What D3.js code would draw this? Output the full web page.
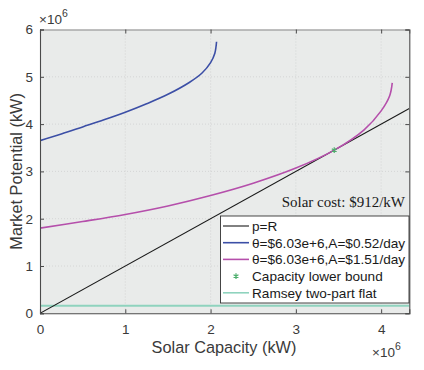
<!DOCTYPE html>
<html>
<head>
<meta charset="utf-8">
<script src="https://cdn.jsdelivr.net/npm/d3@7"></script>
<style>
  body { margin: 0; background: #fff; }
  svg { display: block; font-family: "Liberation Sans", Arial, sans-serif; }
</style>
</head>
<body>
<div id="chart"></div>
<script>
// values in units of 1e6 kW
var xTicks = [0, 1, 2, 3, 4]
var yTicks = [0, 1, 2, 3, 4, 5, 6]

var blueX = [0, 0.25, 0.5, 0.75, 1.0, 1.25, 1.5, 1.75, 1.9, 2.0, 2.05, 2.07]
var blueY = [3.65, 3.79, 3.94, 4.09, 4.25, 4.43, 4.63, 4.88, 5.08, 5.30, 5.50, 5.74]

var magX = [0, 0.5, 1.0, 1.5, 2.0, 2.5, 3.0, 3.45, 3.8, 4.0, 4.1, 4.13]
var magY = [1.80, 1.94, 2.09, 2.27, 2.49, 2.75, 3.07, 3.45, 3.88, 4.28, 4.60, 4.87]

var lineX = [0, 4.33]
var lineY = [0, 4.33]

var boundX = [3.45]
var boundY = [3.45]

var ramseyY = 0.16

var legendLabels = ['p=R', 'θ=$6.03e+6,A=$0.52/day', 'θ=$6.03e+6,A=$1.51/day', 'Capacity lower bound', 'Ramsey two-part flat']

var width = 424, height = 370
// plot box (note: "top" is reserved on window, so prefixed names)
var pLeft = 40, pRight = 409.3, pTop = 29.5, pBottom = 313.3

var x = d3.scaleLinear().domain([0, 4.33]).range([pLeft, pRight])
var y = d3.scaleLinear().domain([0, 6]).range([pBottom, pTop])

var axisColor = '#4a4a4a'

var svg = d3.select('#chart').append('svg')
    .attr('width', width)
    .attr('height', height)

// plot background
svg.append('rect')
    .attr('x', pLeft).attr('y', pTop)
    .attr('width', pRight - pLeft).attr('height', pBottom - pTop)
    .attr('fill', '#e9ebea')

// grid
var grid = svg.append('g').attr('class', 'grid')
grid.selectAll('line.gx').data(xTicks.slice(1))
    .enter().append('line')
    .attr('class', 'gx')
    .attr('x1', d => x(d)).attr('x2', d => x(d))
    .attr('y1', pTop).attr('y2', pBottom)
grid.selectAll('line.gy').data(yTicks.slice(1, -1))
    .enter().append('line')
    .attr('class', 'gy')
    .attr('x1', pLeft).attr('x2', pRight)
    .attr('y1', d => y(d)).attr('y2', d => y(d))
grid.selectAll('line')
    .attr('stroke', '#cfd1d0')
    .attr('stroke-width', 0.8)
    .attr('stroke-dasharray', '1,2')

// clip for data
svg.append('clipPath').attr('id', 'clip')
    .append('rect')
    .attr('x', pLeft).attr('y', pTop)
    .attr('width', pRight - pLeft).attr('height', pBottom - pTop)

var plot = svg.append('g').attr('clip-path', 'url(#clip)')

var line = d3.line()
    .x(d => x(d[0]))
    .y(d => y(d[1]))

var curve = d3.line()
    .x(d => x(d[0]))
    .y(d => y(d[1]))
    .curve(d3.curveCatmullRom.alpha(0.5))

// Ramsey two-part flat
plot.append('line')
    .attr('x1', x(0)).attr('x2', x(4.33))
    .attr('y1', y(ramseyY)).attr('y2', y(ramseyY))
    .attr('stroke', '#8fd3be')
    .attr('stroke-width', 1.8)

// p=R
plot.append('path')
    .datum(d3.zip(lineX, lineY))
    .attr('d', line)
    .attr('fill', 'none')
    .attr('stroke', '#1a1a1a')
    .attr('stroke-width', 1.1)

plot.append('path')
    .datum(d3.zip(blueX, blueY))
    .attr('d', curve)
    .attr('fill', 'none')
    .attr('stroke', '#3c4fa6')
    .attr('stroke-width', 1.6)

plot.append('path')
    .datum(d3.zip(magX, magY))
    .attr('d', curve)
    .attr('fill', 'none')
    .attr('stroke', '#b54fab')
    .attr('stroke-width', 1.6)

var star = d3.symbol().type(d3.symbolAsterisk).size(22)

function drawStar(g, cx, cy) {
    g.append('path')
        .attr('d', star())
        .attr('transform', 'translate(' + cx + ',' + cy + ')')
        .attr('fill', 'none')
        .attr('stroke', '#4cae6c')
        .attr('stroke-width', 1.2)
}

d3.zip(boundX, boundY).forEach(d => drawStar(plot, x(d[0]), y(d[1])))

// axes
var axisB = svg.append('g')
    .attr('transform', 'translate(0,' + pBottom + ')')
    .call(d3.axisBottom(x).tickValues(xTicks).tickSize(-4).tickPadding(11).tickFormat(d3.format('d')))
var axisT = svg.append('g')
    .attr('transform', 'translate(0,' + pTop + ')')
    .call(d3.axisTop(x).tickValues(xTicks).tickSize(-4).tickFormat(''))
var axisL = svg.append('g')
    .attr('transform', 'translate(' + pLeft + ',0)')
    .call(d3.axisLeft(y).tickValues(yTicks).tickSize(-4).tickPadding(7).tickFormat(d3.format('d')))
var axisR = svg.append('g')
    .attr('transform', 'translate(' + pRight + ',0)')
    .call(d3.axisRight(y).tickValues(yTicks).tickSize(-4).tickFormat(''))

;[axisB, axisT, axisL, axisR].forEach(function (a) {
    a.select('.domain').attr('stroke', axisColor).attr('stroke-width', 1.1)
    a.selectAll('.tick line').attr('stroke', axisColor).attr('stroke-width', 1)
    a.selectAll('.tick text')
        .attr('fill', '#3a3a3a')
        .style('font-size', '13.5px')
        .style('font-family', '"Liberation Sans", Arial, sans-serif')
})
axisT.select('.domain').attr('stroke', '#888')

// axis labels
svg.append('text')
    .attr('x', 224).attr('y', 352.5)
    .attr('text-anchor', 'middle')
    .attr('fill', '#3a3a3a')
    .style('font-size', '16.3px')
    .text('Solar Capacity (kW)')

svg.append('text')
    .attr('transform', 'translate(22,' + ((pTop + pBottom) / 2) + ') rotate(-90)')
    .attr('text-anchor', 'middle')
    .attr('fill', '#3a3a3a')
    .style('font-size', '16.3px')
    .text('Market Potential (kW)')

// exponent labels
function exponent(xPos, yPos) {
    var t = svg.append('text')
        .attr('x', xPos).attr('y', yPos)
        .attr('fill', '#3a3a3a')
        .style('font-size', '13.5px')
    t.append('tspan').text('×10')
    t.append('tspan').attr('dy', -7).style('font-size', '10.5px').text('6')
}
exponent(39, 24)
exponent(372, 357)

// annotation
svg.append('text')
    .attr('x', 405).attr('y', 207)
    .attr('text-anchor', 'end')
    .attr('fill', '#1a1a1a')
    .style('font-family', '"Liberation Serif", "Times New Roman", serif')
    .style('font-size', '15px')
    .text('Solar cost: $912/kW')

// legend
var lg = svg.append('g')
lg.append('rect')
    .attr('x', 220.5).attr('y', 216)
    .attr('width', 188.5).attr('height', 87)
    .attr('fill', '#fff')
    .attr('stroke', '#333')
    .attr('stroke-width', 0.9)

var legendColors = ['#1a1a1a', '#3c4fa6', '#b54fab', null, '#8fd3be']
legendLabels.forEach(function (label, i) {
    var ly = 226 + i * 16.7
    if (legendColors[i]) {
        lg.append('line')
            .attr('x1', 223).attr('x2', 249)
            .attr('y1', ly).attr('y2', ly)
            .attr('stroke', legendColors[i])
            .attr('stroke-width', i === 0 ? 1.1 : 1.6)
    } else {
        drawStar(lg, 236, ly)
    }
    lg.append('text')
        .attr('x', 252).attr('y', ly + 4.8)
        .attr('fill', '#1a1a1a')
        .style('font-size', '13.6px')
        .text(label)
})
</script>
</body>
</html>
